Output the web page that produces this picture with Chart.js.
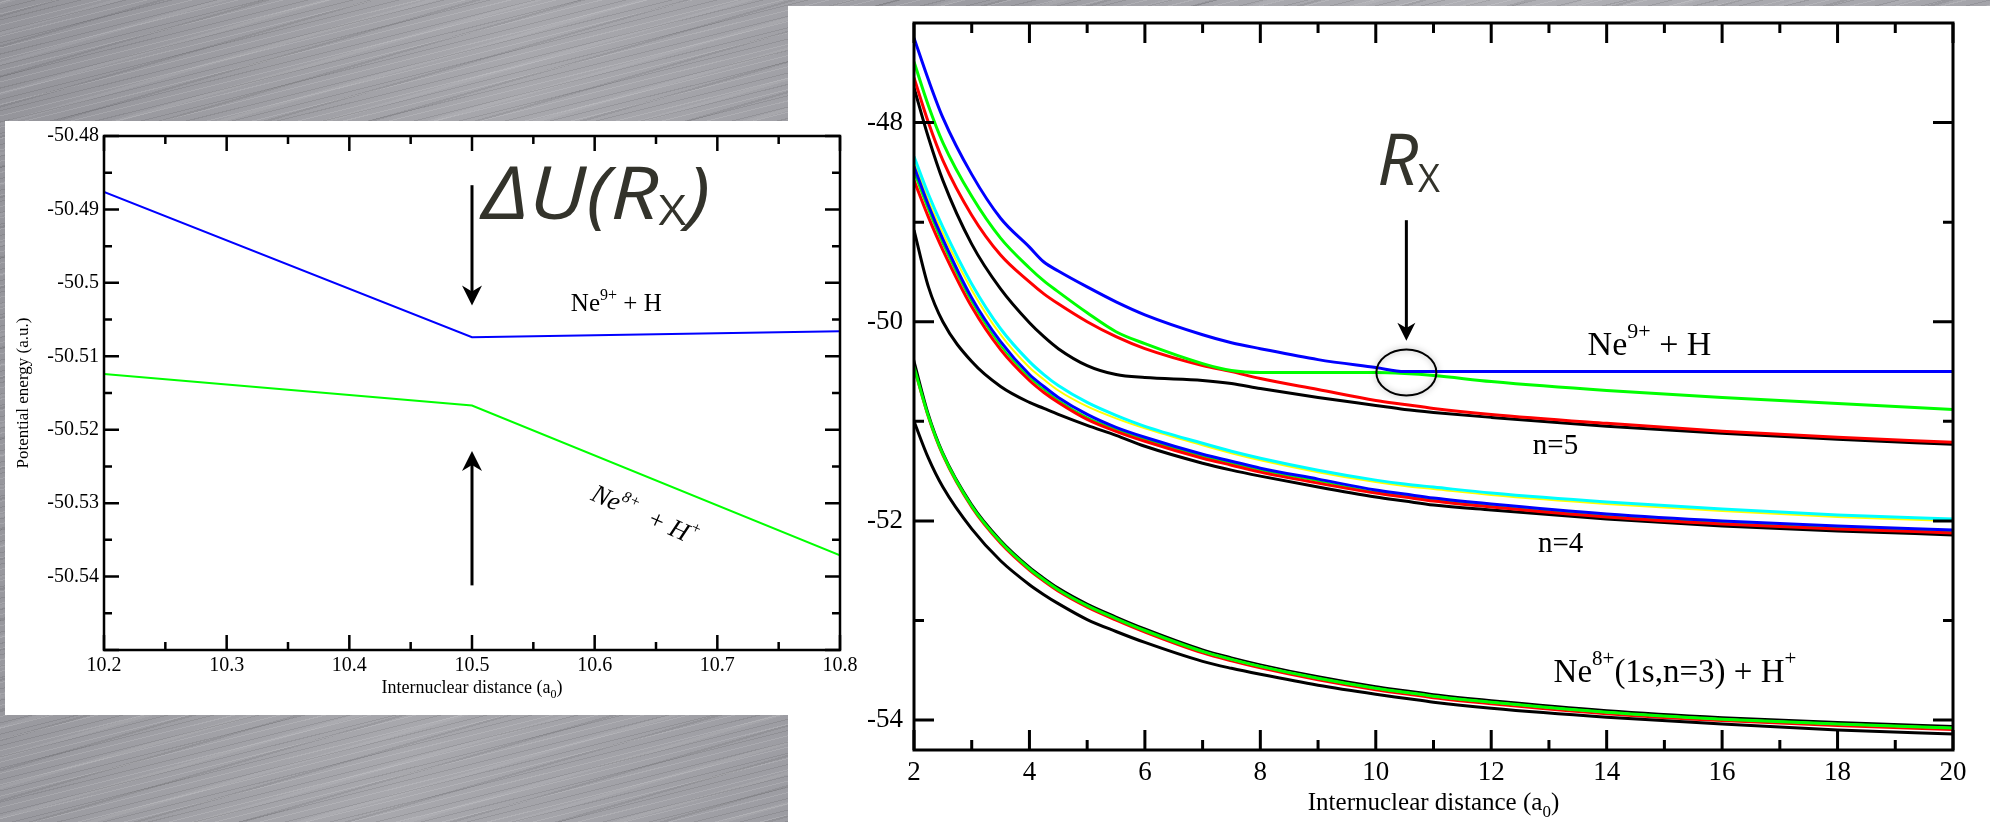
<!DOCTYPE html>
<html>
<head>
<meta charset="utf-8">
<script src="https://cdn.jsdelivr.net/npm/chart.js@4.4.0/dist/chart.umd.min.js"></script>
<style>
html, body { margin: 0; padding: 0; }
body {
  width: 1990px; height: 822px; overflow: hidden; position: relative;
  background:
    repeating-linear-gradient(-14deg, rgba(255,255,255,0.13) 0 1px, rgba(255,255,255,0) 1px 5px, rgba(0,0,0,0.09) 5px 6px, rgba(0,0,0,0) 6px 11px),
    repeating-linear-gradient(-16deg, rgba(255,255,255,0.07) 0 3px, rgba(0,0,0,0) 3px 17px, rgba(0,0,0,0.08) 17px 19px, rgba(0,0,0,0) 19px 29px),
    linear-gradient(100deg, #94949a 0%, #a8a8ad 25%, #9c9ca2 45%, #b0b0b5 70%, #a0a0a6 100%);
}
#right { position: absolute; left: 788px; top: 6px; width: 1202px; height: 816px; background: #fff; }
#left { position: absolute; left: 5px; top: 121px; width: 852px; height: 594px; background: #fff; z-index: 2; }
</style>
</head>
<body>
<div id="right"><canvas id="fullChart"></canvas></div>
<div id="left"><canvas id="zoomChart"></canvas></div>
<script>
// ---- left panel: close-up of the crossing ----
const zoomR = [10.2, 10.5, 10.8];
const zoomIonic = [-50.4876, -50.5074, -50.5066];     // blue, Ne9+ + H
const zoomCovalent = [-50.5124, -50.5167, -50.5371];  // green, Ne8+ + H+
const zoomXMinor = [10.25, 10.35, 10.45, 10.55, 10.65, 10.75];
const zoomYMinor = [-50.485, -50.495, -50.505, -50.515, -50.525, -50.535, -50.545];

// ---- right panel: all curves 2..20 a0 ----
const fullR = [2, 2.25, 2.5, 3, 3.5, 4, 4.25, 4.5, 5, 5.5, 6, 7, 7.5, 8, 9, 10, 10.5, 11, 12, 14, 16, 18, 20];
const blueTop  = [-47.15, -47.57, -47.95, -48.52, -48.96, -49.25, -49.40, -49.49, -49.65, -49.80, -49.93, -50.13, -50.21, -50.27, -50.38, -50.46, -50.50, -50.50, -50.50, -50.50, -50.50, -50.50, -50.50];
const greenTop = [-47.39, -47.83, -48.20, -48.74, -49.16, -49.46, -49.59, -49.70, -49.91, -50.10, -50.22, -50.42, -50.49, -50.51, -50.51, -50.51, -50.52, -50.54, -50.60, -50.69, -50.76, -50.82, -50.88];
const redTop   = [-47.55, -48.00, -48.38, -48.93, -49.33, -49.60, -49.72, -49.82, -50.00, -50.15, -50.27, -50.44, -50.50, -50.57, -50.68, -50.79, -50.83, -50.87, -50.93, -51.02, -51.10, -51.16, -51.21];
const blackTop = [-47.65, -48.15, -48.58, -49.22, -49.67, -50.01, -50.15, -50.27, -50.44, -50.53, -50.56, -50.59, -50.62, -50.67, -50.76, -50.84, -50.88, -50.91, -50.96, -51.05, -51.12, -51.18, -51.23];
const cyanN4   = [-48.34, -48.72, -49.05, -49.62, -50.07, -50.40, -50.53, -50.64, -50.81, -50.94, -51.05, -51.22, -51.30, -51.37, -51.49, -51.59, -51.63, -51.66, -51.72, -51.81, -51.88, -51.94, -51.98];
const yellowN4 = [-48.40, -48.78, -49.11, -49.68, -50.13, -50.46, -50.58, -50.69, -50.85, -50.97, -51.07, -51.24, -51.32, -51.39, -51.51, -51.61, -51.65, -51.68, -51.74, -51.83, -51.90, -51.96, -52.00];
const blueN4   = [-48.44, -48.83, -49.17, -49.76, -50.20, -50.53, -50.65, -50.76, -50.93, -51.06, -51.16, -51.33, -51.40, -51.47, -51.58, -51.69, -51.73, -51.77, -51.83, -51.93, -52.00, -52.05, -52.09];
const greenN4  = [-48.50, -48.88, -49.22, -49.80, -50.24, -50.56, -50.68, -50.79, -50.96, -51.08, -51.18, -51.35, -51.42, -51.49, -51.60, -51.71, -51.75, -51.79, -51.85, -51.95, -52.02, -52.07, -52.11];
const redN4    = [-48.58, -48.95, -49.28, -49.85, -50.28, -50.59, -50.71, -50.81, -50.98, -51.10, -51.20, -51.37, -51.44, -51.51, -51.62, -51.72, -51.76, -51.80, -51.86, -51.96, -52.03, -52.08, -52.12];
const blackN4  = [-49.08, -49.65, -50.00, -50.40, -50.65, -50.81, -50.87, -50.93, -51.04, -51.14, -51.25, -51.42, -51.49, -51.55, -51.66, -51.76, -51.80, -51.84, -51.89, -51.98, -52.05, -52.10, -52.14];
const blackN3  = [-50.38, -50.92, -51.31, -51.83, -52.19, -52.46, -52.57, -52.67, -52.83, -52.96, -53.08, -53.29, -53.37, -53.44, -53.56, -53.66, -53.70, -53.74, -53.80, -53.90, -53.97, -54.02, -54.06];
const greenN3  = [-50.45, -50.95, -51.33, -51.85, -52.21, -52.48, -52.59, -52.69, -52.85, -52.98, -53.10, -53.31, -53.39, -53.46, -53.58, -53.68, -53.72, -53.76, -53.82, -53.92, -53.99, -54.04, -54.08];
const redN3    = [-50.47, -50.97, -51.35, -51.87, -52.23, -52.50, -52.61, -52.71, -52.87, -53.00, -53.12, -53.33, -53.41, -53.48, -53.60, -53.70, -53.74, -53.78, -53.84, -53.94, -54.01, -54.06, -54.10];
const blackN3b = [-51.00, -51.37, -51.66, -52.08, -52.40, -52.64, -52.74, -52.83, -52.99, -53.11, -53.22, -53.41, -53.48, -53.54, -53.65, -53.74, -53.78, -53.82, -53.88, -53.97, -54.04, -54.10, -54.14];
const fullXMinor = [3, 5, 7, 9, 11, 13, 15, 17, 19];
const fullYMinor = [-49, -51, -53];

const serif = '"Liberation Serif", "Times New Roman", serif';
const sans = '"Open Sans", "Lato", sans-serif';
Chart.defaults.font.family = serif;
Chart.defaults.color = '#000';
const fmt = v => String(Math.round(v * 1000) / 1000);
const pts = (xs, ys) => xs.map((x, i) => ({x: x, y: ys[i]}));

function richText(ctx, x, y, parts, center) {
  let w = 0;
  parts.forEach(p => { ctx.font = p.font; w += ctx.measureText(p.t).width; });
  let cx = center ? x - w / 2 : x;
  parts.forEach(p => {
    ctx.font = p.font;
    ctx.fillText(p.t, cx, y + (p.dy || 0));
    cx += ctx.measureText(p.t).width;
  });
}

function arrow(ctx, x1, y1, x2, y2, w, head) {
  const a = Math.atan2(y2 - y1, x2 - x1);
  ctx.save();
  ctx.strokeStyle = '#000';
  ctx.fillStyle = '#000';
  ctx.lineWidth = w;
  ctx.beginPath();
  ctx.moveTo(x1, y1);
  ctx.lineTo(x2 - Math.cos(a) * head * 0.6, y2 - Math.sin(a) * head * 0.6);
  ctx.stroke();
  ctx.translate(x2, y2);
  ctx.rotate(a);
  ctx.beginPath();
  ctx.moveTo(0, 0);
  ctx.lineTo(-head, -head / 2);
  ctx.lineTo(-head * 0.7, 0);
  ctx.lineTo(-head, head / 2);
  ctx.closePath();
  ctx.fill();
  ctx.restore();
}

// inward ticks on all four sides plus the box
const frameTicks = {
  id: 'frameTicks',
  afterDatasetsDraw(chart, args, opts) {
    const {ctx, chartArea: a, scales: {x, y}} = chart;
    ctx.save();
    ctx.strokeStyle = '#000';
    ctx.lineWidth = opts.width;
    ctx.beginPath();
    const xt = (v, len) => {
      const p = x.getPixelForValue(v);
      ctx.moveTo(p, a.bottom); ctx.lineTo(p, a.bottom - len);
      ctx.moveTo(p, a.top); ctx.lineTo(p, a.top + len);
    };
    const yt = (v, len) => {
      const p = y.getPixelForValue(v);
      ctx.moveTo(a.left, p); ctx.lineTo(a.left + len, p);
      ctx.moveTo(a.right, p); ctx.lineTo(a.right - len, p);
    };
    x.ticks.forEach(t => xt(t.value, opts.major));
    y.ticks.forEach(t => yt(t.value, opts.major));
    opts.xMinor.forEach(v => xt(v, opts.minor));
    opts.yMinor.forEach(v => yt(v, opts.minor));
    ctx.stroke();
    ctx.strokeRect(a.left, a.top, a.right - a.left, a.bottom - a.top);
    ctx.restore();
  }
};

const zoomNotes = {
  id: 'zoomNotes',
  afterDraw(chart) {
    const {ctx, chartArea: a, scales: {x, y}} = chart;
    const X = v => x.getPixelForValue(v), Y = v => y.getPixelForValue(v);
    ctx.save();
    arrow(ctx, X(10.5), Y(-50.4867), X(10.5), Y(-50.5031), 3, 20);
    arrow(ctx, X(10.5), Y(-50.5412), X(10.5), Y(-50.5229), 3, 20);
    ctx.textBaseline = 'alphabetic';
    ctx.fillStyle = '#33332b';
    // the big label is a little wider than the plain font
    ctx.save();
    ctx.translate(X(10.508), Y(-50.4913));
    ctx.scale(1.14, 1);
    richText(ctx, 0, 0, [
      {t: '\u0394U(R', font: 'italic 400 74px ' + sans},
      {t: 'X', font: '400 42px ' + sans, dy: 6},
      {t: ')', font: 'italic 400 74px ' + sans}
    ]);
    ctx.restore();
    ctx.fillStyle = '#000';
    richText(ctx, X(10.5806), Y(-50.5039), [
      {t: 'Ne', font: '25px ' + serif},
      {t: '9+', font: '16px ' + serif, dy: -11},
      {t: ' + H', font: '25px ' + serif}
    ]);
    ctx.save();
    ctx.translate(X(10.596), Y(-50.5295));
    ctx.rotate(24 * Math.PI / 180);
    richText(ctx, 0, 0, [
      {t: 'Ne', font: 'italic 26px ' + serif},
      {t: '8+', font: 'italic 16px ' + serif, dy: -12},
      {t: '  + H', font: 'italic 26px ' + serif},
      {t: '+', font: 'italic 16px ' + serif, dy: -12}
    ]);
    ctx.restore();
    // axis titles
    richText(ctx, (a.left + a.right) / 2, a.bottom + 43, [
      {t: 'Internuclear distance (a', font: '18px ' + serif},
      {t: '0', font: '12px ' + serif, dy: 5},
      {t: ')', font: '18px ' + serif}
    ], true);
    ctx.save();
    ctx.translate(a.left - 80, (a.top + a.bottom) / 2);
    ctx.rotate(-Math.PI / 2);
    ctx.textAlign = 'center';
    ctx.textBaseline = 'middle';
    ctx.font = '17px ' + serif;
    ctx.fillText('Potential energy (a.u.)', 0, 0);
    ctx.restore();
    ctx.restore();
  }
};

const fullNotes = {
  id: 'fullNotes',
  afterDraw(chart) {
    const {ctx, chartArea: a, scales: {x, y}} = chart;
    const X = v => x.getPixelForValue(v), Y = v => y.getPixelForValue(v);
    ctx.save();
    ctx.textBaseline = 'alphabetic';
    ctx.fillStyle = '#33332b';
    richText(ctx, X(10.02), Y(-48.63), [
      {t: 'R', font: 'italic 400 72px ' + sans},
      {t: 'X', font: '400 38px ' + sans, dy: 7}
    ]);
    arrow(ctx, X(10.53), Y(-48.98), X(10.53), Y(-50.19), 3, 18);
    ctx.save();
    ctx.shadowColor = 'rgba(0,0,0,0.35)';
    ctx.shadowBlur = 6;
    ctx.strokeStyle = '#000';
    ctx.lineWidth = 2;
    ctx.beginPath();
    ctx.ellipse(X(10.53), Y(-50.51), 30, 23, 0, 0, Math.PI * 2);
    ctx.stroke();
    ctx.restore();
    ctx.fillStyle = '#000';
    richText(ctx, X(13.67), Y(-50.335), [
      {t: 'Ne', font: '34px ' + serif},
      {t: '9+', font: '22px ' + serif, dy: -17},
      {t: ' + H', font: '34px ' + serif}
    ]);
    richText(ctx, X(12.72), Y(-51.33), [{t: 'n=5', font: '29px ' + serif}]);
    richText(ctx, X(12.81), Y(-52.31), [{t: 'n=4', font: '29px ' + serif}]);
    richText(ctx, X(13.08), Y(-53.62), [
      {t: 'Ne', font: '33px ' + serif},
      {t: '8+', font: '21px ' + serif, dy: -17},
      {t: '(1s,n=3) + H', font: '33px ' + serif},
      {t: '+', font: '21px ' + serif, dy: -17}
    ]);
    richText(ctx, (a.left + a.right) / 2, a.bottom + 60, [
      {t: 'Internuclear distance (a', font: '25px ' + serif},
      {t: '0', font: '17px ' + serif, dy: 7},
      {t: ')', font: '25px ' + serif}
    ], true);
    ctx.restore();
  }
};

function axes(xMin, xMax, xStep, yMin, yMax, yStep, fontSize, yWidth, xHeight, xPad, yPad, hideY) {
  const font = {family: serif, size: fontSize, style: 'normal', weight: 'normal'};
  const noGrid = {display: false, drawTicks: false};
  return {
    x: {
      type: 'linear', min: xMin, max: xMax,
      ticks: {stepSize: xStep, font: font, color: '#000', padding: xPad, maxRotation: 0, autoSkip: false, includeBounds: false, callback: fmt},
      grid: noGrid, border: {display: false},
      afterFit: s => { s.height = xHeight; s.paddingLeft = 0; s.paddingRight = 0; }
    },
    y: {
      type: 'linear', min: yMin, max: yMax,
      ticks: {stepSize: yStep, font: font, color: '#000', padding: yPad, autoSkip: false, includeBounds: false,
        callback: v => (hideY && hideY(v)) ? '' : fmt(v)},
      grid: noGrid, border: {display: false},
      afterFit: s => { s.width = yWidth; s.paddingTop = 0; s.paddingBottom = 0; }
    }
  };
}

new Chart(document.getElementById('zoomChart'), {
  type: 'line',
  data: {
    datasets: [
      {data: pts(zoomR, zoomIonic), borderColor: '#0000ff', borderWidth: 2},
      {data: pts(zoomR, zoomCovalent), borderColor: '#00ff00', borderWidth: 2}
    ]
  },
  options: {
    responsive: true, maintainAspectRatio: false, animation: false,
    layout: {padding: {left: 0, right: 17, top: 15, bottom: 0}},
    elements: {point: {radius: 0}, line: {tension: 0}},
    scales: axes(10.2, 10.8, 0.1, -50.55, -50.48, 0.01, 20, 99, 65, 4, 5, v => v < -50.545),
    plugins: {
      legend: {display: false}, tooltip: {enabled: false},
      frameTicks: {width: 2.5, major: 15, minor: 8, xMinor: zoomXMinor, yMinor: zoomYMinor}
    }
  },
  plugins: [frameTicks, zoomNotes]
});

// first entries are drawn on top
const fullSeries = [
  [blueTop, '#0000ff', 3], [greenTop, '#00ff00', 3], [redTop, '#ff0000', 3], [blackTop, '#000000', 3],
  [cyanN4, '#00ffff', 3], [blueN4, '#0000ff', 3], [redN4, '#ff0000', 3], [blackN4, '#000000', 3],
  [greenN3, '#00ff00', 3], [blackN3b, '#000000', 3],
  [yellowN4, '#ffff00', 2], [greenN4, '#00ff00', 2], [blackN3, '#000000', 2], [redN3, '#ff0000', 2]
];

new Chart(document.getElementById('fullChart'), {
  type: 'line',
  data: {
    datasets: fullSeries.map(s => ({data: pts(fullR, s[0]), borderColor: s[1], borderWidth: s[2]}))
  },
  options: {
    responsive: true, maintainAspectRatio: false, animation: false,
    layout: {padding: {left: 0, right: 37, top: 17, bottom: 0}},
    elements: {point: {radius: 0}, line: {cubicInterpolationMode: 'monotone'}},
    scales: axes(2, 20, 2, -54.3, -47, 2, 27, 126, 72, 7, 11),
    plugins: {
      legend: {display: false}, tooltip: {enabled: false},
      frameTicks: {width: 3, major: 20, minor: 10, xMinor: fullXMinor, yMinor: fullYMinor}
    }
  },
  plugins: [frameTicks, fullNotes]
});
</script>
</body>
</html>
